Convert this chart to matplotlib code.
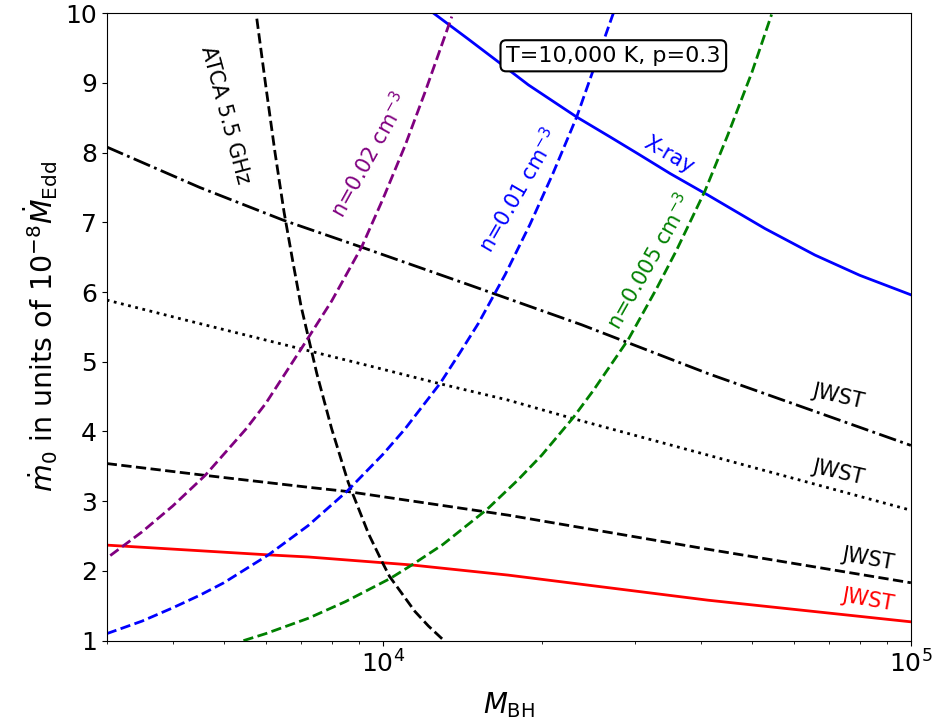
import matplotlib
matplotlib.use("Agg")
import matplotlib.pyplot as plt

# ---- data ----
# JWST limits
m_jwst_dd = [3000, 4500, 6480, 9060, 14600, 23800, 41300, 100000]
y_jwst_dd = [8.08, 7.50, 7.03, 6.65, 6.10, 5.53, 4.83, 3.80]

m_jwst_dot = [3000, 4220, 7126, 9326, 12740, 17270, 22800, 41300, 100000]
y_jwst_dot = [5.885, 5.60, 5.17, 4.95, 4.69, 4.45, 4.19, 3.66, 2.87]

m_jwst_dash = [3000, 4610, 7220, 8550, 17270, 41300, 100000]
y_jwst_dash = [3.54, 3.37, 3.20, 3.14, 2.80, 2.31, 1.83]

m_jwst_red = [3000, 6070, 7220, 11350, 17270, 41300, 100000]
y_jwst_red = [2.37, 2.23, 2.20, 2.085, 1.94, 1.58, 1.27]

# X-ray limit
m_xray = [12470, 14500, 16550, 18870, 23290, 27000, 30460, 34990, 41280, 52930, 65820, 80000, 100000]
y_xray = [10.0, 9.63, 9.30, 8.97, 8.51, 8.22, 7.98, 7.70, 7.39, 6.91, 6.53, 6.24, 5.96]

# ATCA 5.5 GHz limit
m_atca = [5773, 6000, 6250, 6500, 6750, 7000, 7500, 8000, 8600, 9400, 10000, 10300, 11500, 12200, 13020]
y_atca = [9.92, 8.97, 8.00, 7.15, 6.45, 5.80, 4.83, 4.04, 3.27, 2.53, 2.11, 1.92, 1.42, 1.21, 1.01]

# density curves
m_n002 = [3047, 3500, 4000, 4609, 5500, 6000, 7026, 8000, 9125, 10000, 11020, 12000, 13510]
y_n002 = [2.22, 2.56, 2.93, 3.37, 4.03, 4.40, 5.20, 5.87, 6.65, 7.33, 8.10, 8.85, 9.95]

m_n001 = [3000, 3500, 4000, 4500, 5000, 6072, 7222, 8549, 10000, 11000, 12840, 14000,
          15170, 17050, 19000, 21000, 23290, 25000, 27330]
y_n001 = [1.10, 1.28, 1.47, 1.65, 1.83, 2.23, 2.65, 3.14, 3.67, 4.03, 4.69, 5.13,
          5.55, 6.25, 6.97, 7.70, 8.51, 9.17, 10.0]

m_n0005 = [5446, 6000, 7222, 8500, 10320, 11350, 13000, 15740, 18000, 20000, 22950,
           25000, 29170, 33000, 36000, 40750, 45000, 50000, 54480]
y_n0005 = [1.0, 1.10, 1.32, 1.56, 1.89, 2.085, 2.38, 2.88, 3.30, 3.66, 4.20,
           4.58, 5.32, 6.05, 6.60, 7.45, 8.25, 9.15, 9.98]

# ---- figure ----
fig = plt.figure(figsize=(9.4, 7.28), dpi=100)
ax = fig.add_axes([0.1135, 0.12, 0.8555, 0.862])

lw = 2
ax.plot(m_jwst_dd, y_jwst_dd, color='k', ls='-.', lw=lw)
ax.plot(m_jwst_dot, y_jwst_dot, color='k', ls=':', lw=lw)
ax.plot(m_jwst_dash, y_jwst_dash, color='k', ls='--', lw=lw)
ax.plot(m_jwst_red, y_jwst_red, color='r', ls='-', lw=lw)
ax.plot(m_xray, y_xray, color='b', ls='-', lw=lw)
ax.plot(m_atca, y_atca, color='k', ls='--', lw=lw)
ax.plot(m_n002, y_n002, color='purple', ls='--', lw=lw)
ax.plot(m_n001, y_n001, color='b', ls='--', lw=lw)
ax.plot(m_n0005, y_n0005, color='g', ls='--', lw=lw)

ax.set_xscale('log')
ax.set_xlim(3000, 1e5)
ax.set_ylim(1, 10)
ax.set_yticks(range(1, 11))
ax.tick_params(axis='both', which='major', labelsize=18)

ax.set_xlabel(r'$M_{\rm BH}$', fontsize=20, labelpad=9)
ax.set_ylabel(r'$\dot{m}_0$ in units of $10^{-8}\dot{M}_{\rm Edd}$', fontsize=20.5)

fs = 15
kw = dict(ha='center', va='center', rotation_mode='anchor', fontsize=fs)
ax.text(5028, 8.54, 'ATCA 5.5 GHz', rotation=-75, color='k', **kw)
ax.text(9420, 7.96, r'n=0.02 cm$^{-3}$', rotation=61, color='purple', **kw)
ax.text(18110, 7.45, r'n=0.01 cm$^{-3}$', rotation=60, color='b', **kw)
ax.text(31920, 6.44, r'n=0.005 cm$^{-3}$', rotation=60.5, color='g', **kw)
ax.text(34830, 7.96, 'X-ray', rotation=-30, color='b', **kw)
ax.text(72860, 4.51, 'JWST', rotation=-13, color='k', **kw)
ax.text(72860, 3.415, 'JWST', rotation=-13, color='k', **kw)
ax.text(83000, 2.18, 'JWST', rotation=-10, color='k', **kw)
ax.text(83000, 1.59, 'JWST', rotation=-10, color='r', **kw)

ax.text(0.63, 0.932, 'T=10,000 K, p=0.3', transform=ax.transAxes,
        ha='center', va='center', fontsize=16,
        bbox=dict(boxstyle='round,pad=0.25', facecolor='white', edgecolor='k', lw=1.5))

fig.savefig('out.png', dpi=100)
